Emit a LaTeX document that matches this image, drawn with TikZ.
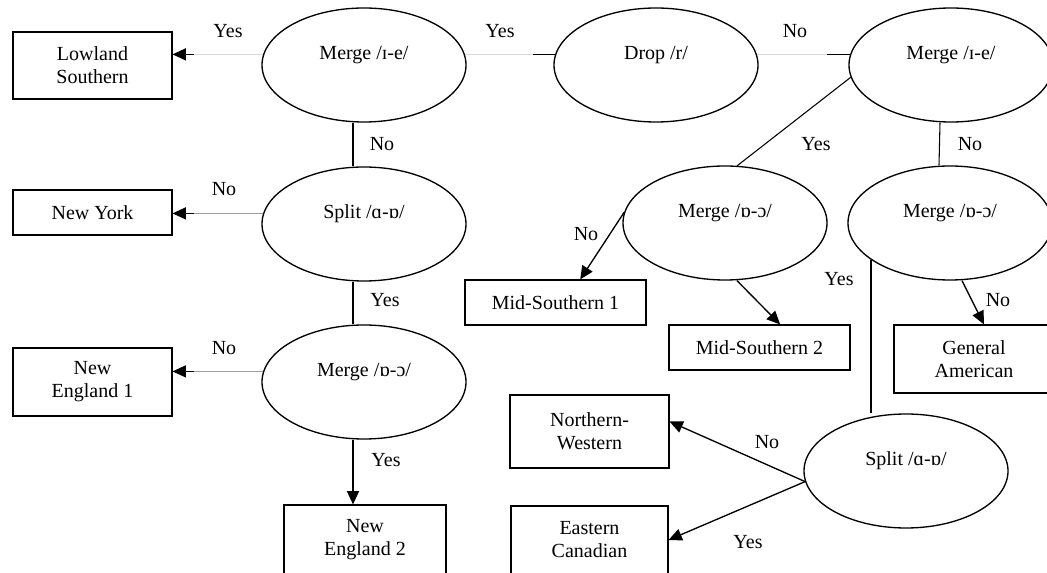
\documentclass[tikz,border=0pt]{standalone}
\usepackage{fontspec}
\setmainfont{Liberation Serif}
\usetikzlibrary{shapes.geometric,arrows.meta}

\begin{document}
\begin{tikzpicture}[x=0.75pt,y=-0.75pt,
  font=\fontsize{15}{17.25}\selectfont,
  question/.style={draw,ellipse,line width=1pt,inner sep=0pt,
    minimum width=153pt,minimum height=85.5pt,text height=10pt,text depth=17.5pt},
  dialect/.style={draw,line width=0.8pt,align=center,inner sep=0pt,minimum width=119.25pt},
  branch/.style={line width=0.8pt},
  faint/.style={draw=gray!30,line width=0.6pt},
  pale/.style={draw=gray!75,line width=0.5pt},
  arrowed/.style={line width=1pt,-{Triangle[length=10pt,width=9pt]}}]
\useasboundingbox (0,0) rectangle (1047,573);
\clip (0,0) rectangle (1047,573);

\node[question] (drop) at (656,65) {Drop /r/};
\node[question] (m1) at (364,65) {Merge /ɪ-e/};
\node[question] (m2) at (951,65) {Merge /ɪ-e/};
\node[question] (s1) at (364,224) {Split /ɑ-ɒ/};
\node[question] (mo1) at (364,382) {Merge /ɒ-ɔ/};
\node[question] (mo2) at (725,223) {Merge /ɒ-ɔ/};
\node[question] (mo3) at (950,223) {Merge /ɒ-ɔ/};
\node[question] (s2) at (906,471) {Split /ɑ-ɒ/};

\node[dialect,minimum height=50.25pt] (ls) at (92.5,65.5) {Lowland\\Southern};
\node[dialect,minimum height=33.75pt] (ny) at (92.5,212.5) {New York};
\node[dialect,minimum height=51pt] (ne1) at (92.5,382) {New\\England 1};
\node[dialect,minimum height=52.5pt,minimum width=121.5pt] (ne2) at (365,540) {New\\England 2};
\node[dialect,minimum height=33.75pt,minimum width=135.75pt] (ms1) at (555.5,302.5) {Mid-Southern 1};
\node[dialect,minimum height=33.75pt,minimum width=135.75pt] (ms2) at (759.5,347.5) {Mid-Southern 2};
\node[dialect,minimum height=51pt,minimum width=120pt] (ga) at (974,359) {General\\American};
\node[dialect,minimum height=54.75pt] (nw) at (589.5,431.5) {Northern-\\Western};
\node[dialect,minimum height=51pt,minimum width=117.75pt] (ec) at (589.5,540) {Eastern\\Canadian};

\draw[faint] (m1.6) -- (drop.174);
\draw[branch] ([xshift=-16.5pt]drop.174) -- (drop.174);
\draw[faint] (drop.6) -- (m2.174);
\draw[branch] ([xshift=-17pt]m2.174) -- (m2.174);

\coordinate (lsin) at (m1.174 -| ls.east);
\coordinate (nyin) at (s1.174 -| ny.east);
\coordinate (ne1in) at (mo1.174 -| ne1.east);
\draw[faint] (m1.174) -- (lsin);
\draw[arrowed] ([xshift=16pt]lsin) -- (lsin);
\draw[pale] (s1.174) -- (nyin);
\draw[arrowed] ([xshift=16pt]nyin) -- (nyin);
\draw[pale] (mo1.174) -- (ne1in);
\draw[arrowed] ([xshift=16pt]ne1in) -- (ne1in);

\draw[branch] ([xshift=-8.25pt]m1.south) -- ([xshift=-8.25pt]s1.north);
\draw[branch] ([xshift=-8.25pt]s1.south) -- ([xshift=-8.25pt]mo1.north);
\coordinate (moout) at ([xshift=-8.25pt]mo1.south);
\draw[arrowed] (moout) -- (moout |- ne2.north);

\draw[branch] (m2.187) -- (mo2.78);
\draw[branch] ([xshift=-8.25pt]m2.south) -- ([xshift=-8.25pt]mo3.north);
\draw[arrowed] (mo2.174) -- ([xshift=18.5pt]ms1.north);
\draw[arrowed] ([xshift=9pt]mo2.south) -- ([xshift=15.5pt]ms2.north);
\draw[arrowed] ([xshift=9pt]mo3.south) -- ([xshift=7.5pt]ga.north);
\draw[branch] (mo3.205) -- (mo3.205 |- s2.north);
\draw[arrowed] (s2.186) -- ([yshift=7.5pt]nw.east);
\draw[arrowed] (s2.186) -- (ec.east);

\node (l1) at (228,31) {Yes};
\node (l2) at (500,31) {Yes};
\node (l3) at (795,31) {No};
\node (l4) at (382,144) {No};
\node (l5) at (224,189) {No};
\node (l6) at (385,300) {Yes};
\node (l7) at (224,348) {No};
\node (l8) at (386,460) {Yes};
\node (l9) at (816,144) {Yes};
\node (l10) at (970,144) {No};
\node (l11) at (586,234) {No};
\node (l12) at (839,279) {Yes};
\node (l13) at (998,300) {No};
\node (l14) at (767,442) {No};
\node (l15) at (748,542) {Yes};
\end{tikzpicture}
\end{document}
